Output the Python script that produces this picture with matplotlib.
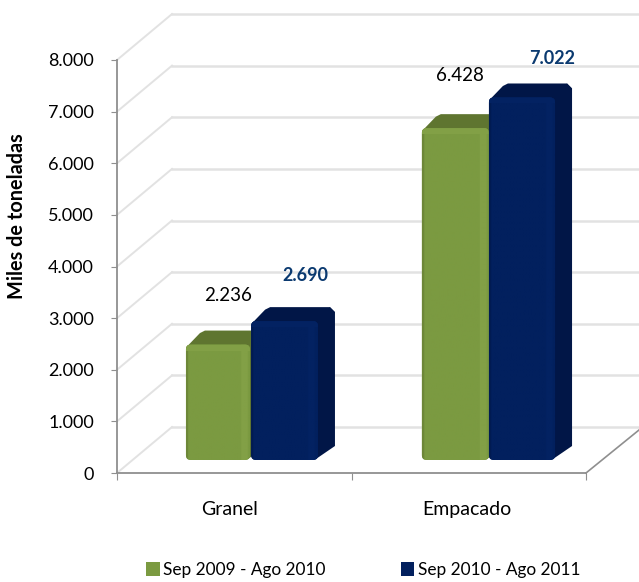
import matplotlib
matplotlib.use("Agg")
import matplotlib.pyplot as plt
import numpy as np
from matplotlib.colors import to_rgb
from matplotlib.patches import FancyBboxPatch, Patch, Polygon

plt.rcParams['font.family'] = ['Lato', 'DejaVu Sans']

categories = ['Granel', 'Empacado']
series_names = ['Sep 2009 - Ago 2010', 'Sep 2010 - Ago 2011']
values_2010 = [2236, 6428]
values_2011 = [2690, 7022]
y_ticks = [0, 1000, 2000, 3000, 4000, 5000, 6000, 7000, 8000]
y_tick_labels = ['0', '1.000', '2.000', '3.000', '4.000', '5.000', '6.000', '7.000', '8.000']
labels_2010 = ['2.236', '6.428']
labels_2011 = ['2.690', '7.022']

W, H = 639, 582
green = '#7b9a41'
green_dark = '#5f7530'
green_light = '#82a046'
blue = '#02205e'
blue_dark = '#011647'
blue_light = '#032262'
grid_col = '#e2e2e2'
axis_col = '#8f8f8f'

fig = plt.figure(figsize=(W / 100, H / 100), dpi=100)
# front plane of the fake 3D box, everything else hangs off it
left, right, bottom, top = 117, 586, 473, 60
ax = fig.add_axes([left / W, 1 - bottom / H, (right - left) / W, (bottom - top) / H])
ax.set_xlim(0, 2)
ax.set_ylim(0, 8000)
ax.patch.set_visible(False)

# pixels to data units
px_x = 2 / (right - left)
px_y = 8000 / (bottom - top)
depth_x = 55 * px_x
depth_y = 46 * px_y
bar_base = 13 * px_y

# walls
for t in y_ticks:
    ax.plot([0, depth_x], [t, t + depth_y], color=grid_col, lw=1.4, clip_on=False, zorder=1)
    ax.plot([depth_x, 2 + 53 * px_x], [t + depth_y, t + depth_y], color=grid_col, lw=1.8, clip_on=False, zorder=1)
ax.plot([2, 2 + 53 * px_x], [0, 43 * px_y], color=axis_col, lw=1.2, clip_on=False, zorder=2)

# axis lines and ticks
for s in ['top', 'right']:
    ax.spines[s].set_visible(False)
for s in ['left', 'bottom']:
    ax.spines[s].set_color(axis_col)
    ax.spines[s].set_linewidth(1.3)
ax.set_yticks(y_ticks)
ax.set_yticklabels(y_tick_labels, fontsize=13, color='black')
ax.tick_params(axis='y', length=4, color=axis_col, pad=12.5)
ax.set_xticks([0, 1, 2])
ax.set_xticklabels([])
ax.tick_params(axis='x', which='major', length=5, color=axis_col)
ax.set_xticks([0.48, 1.49], minor=True)
ax.set_xticklabels(categories, minor=True, fontsize=14)
ax.tick_params(axis='x', which='minor', length=0, pad=20)
fig.text(17 / W, 1 - 216 / H, 'Miles de toneladas', rotation=90, fontsize=14.3, fontweight='bold',
         ha='center', va='center')


def bar3d(x0, x1, value, col, dark, light, z):
    # one bar: side and top faces, then the rounded front with a shaded band
    base = bar_base
    h = base + value
    dx = 17 * px_x
    dy = 14 * px_y
    r = 5
    side = [(x1 - 2 * px_x, base + 1 * px_y), (x1 + dx, base + dy), (x1 + dx, h + dy - r * px_y),
            (x1 + dx - r * px_x, h + dy), (x1 - 2 * px_x, h)]
    ax.add_patch(Polygon(side, closed=True, fc=dark, ec='none', clip_on=False, zorder=z))
    tp = [(x0 + 1 * px_x, h - 2 * px_y), (x0 + dx - 3 * px_x, h + dy - 2.5 * py_step), (x0 + dx + 2 * px_x, h + dy),
          (x1 + dx - r * px_x, h + dy), (x1 + dx, h + dy - r * px_y), (x1, h - 2 * px_y)]
    ax.add_patch(Polygon(tp, closed=True, fc=dark, ec='none', clip_on=False, zorder=z))
    box = FancyBboxPatch((x0 + r * px_x, base + r * px_y), x1 - x0 - 2 * r * px_x, h - base - 2 * r * px_y,
                         boxstyle='round,pad=%f,rounding_size=%f' % (r * px_x, r * px_x),
                         mutation_aspect=px_y / px_x, fc=col, ec='none', clip_on=False, zorder=z + 0.1)
    ax.add_patch(box)
    c0, c1, c2 = np.array(to_rgb(col)), np.array(to_rgb(light)), np.array(to_rgb(dark))
    pos = np.linspace(0, 1, 60)
    shade = np.ones((1, 60, 3)) * c0
    shade[0, pos < 0.03] = c2 * 0.5 + c0 * 0.5
    shade[0, (pos > 0.86) & (pos < 0.95)] = c1
    im = ax.imshow(shade, extent=(x0, x1, base, h), aspect='auto', interpolation='bilinear',
                   zorder=z + 0.2)
    im.set_clip_box(fig.bbox)
    im.set_clip_path(box)
    # lighter rim along the top edge of the front
    rim_h = 6 * px_y
    rim = np.ones((1, 1, 3)) * c1
    im2 = ax.imshow(rim, extent=(x0, x1, h - rim_h, h), aspect='auto', interpolation='nearest',
                    zorder=z + 0.3)
    im2.set_clip_box(fig.bbox)
    im2.set_clip_path(box)


py_step = px_y
bar_x = [(0.294, 0.567, 0.572, 0.857), (1.300, 1.586, 1.586, 1.868)]
for i in range(len(categories)):
    g0, g1, b0, b1 = bar_x[i]
    bar3d(g0, g1, values_2010[i], green, green_dark, green_light, 3)
    bar3d(b0, b1, values_2011[i], blue, blue_dark, blue_light, 4)
ax.set_xlim(0, 2)
ax.set_ylim(0, 8000)

# value labels, offsets in points above the bar's front top
label_off_2010 = [(7, 35), (3.5, 38)]
label_off_2011 = [(15, 33), (21.5, 28)]
for i in range(len(categories)):
    g0, g1, b0, b1 = bar_x[i]
    ax.annotate(labels_2010[i], ((g0 + g1) / 2, values_2010[i] + bar_base), xytext=label_off_2010[i],
                textcoords='offset points', ha='center', va='center', fontsize=13.5, zorder=9,
                annotation_clip=False)
    ax.annotate(labels_2011[i], ((b0 + b1) / 2, values_2011[i] + bar_base), xytext=label_off_2011[i],
                textcoords='offset points', ha='center', va='center', fontsize=13, fontweight='bold',
                color='#0b3a70', zorder=9, annotation_clip=False)

handles = [Patch(fc=green, ec='none'), Patch(fc=blue, ec='none')]
fig.legend(handles, series_names, loc='center left', bbox_to_anchor=(146 / W, 1 - 570 / H), ncol=2,
           frameon=False, fontsize=12.4, handlelength=0.8, handleheight=0.8, handletextpad=0.2,
           columnspacing=4.35, borderpad=0, borderaxespad=0)

fig.savefig('out.png', dpi=100, facecolor='white')
